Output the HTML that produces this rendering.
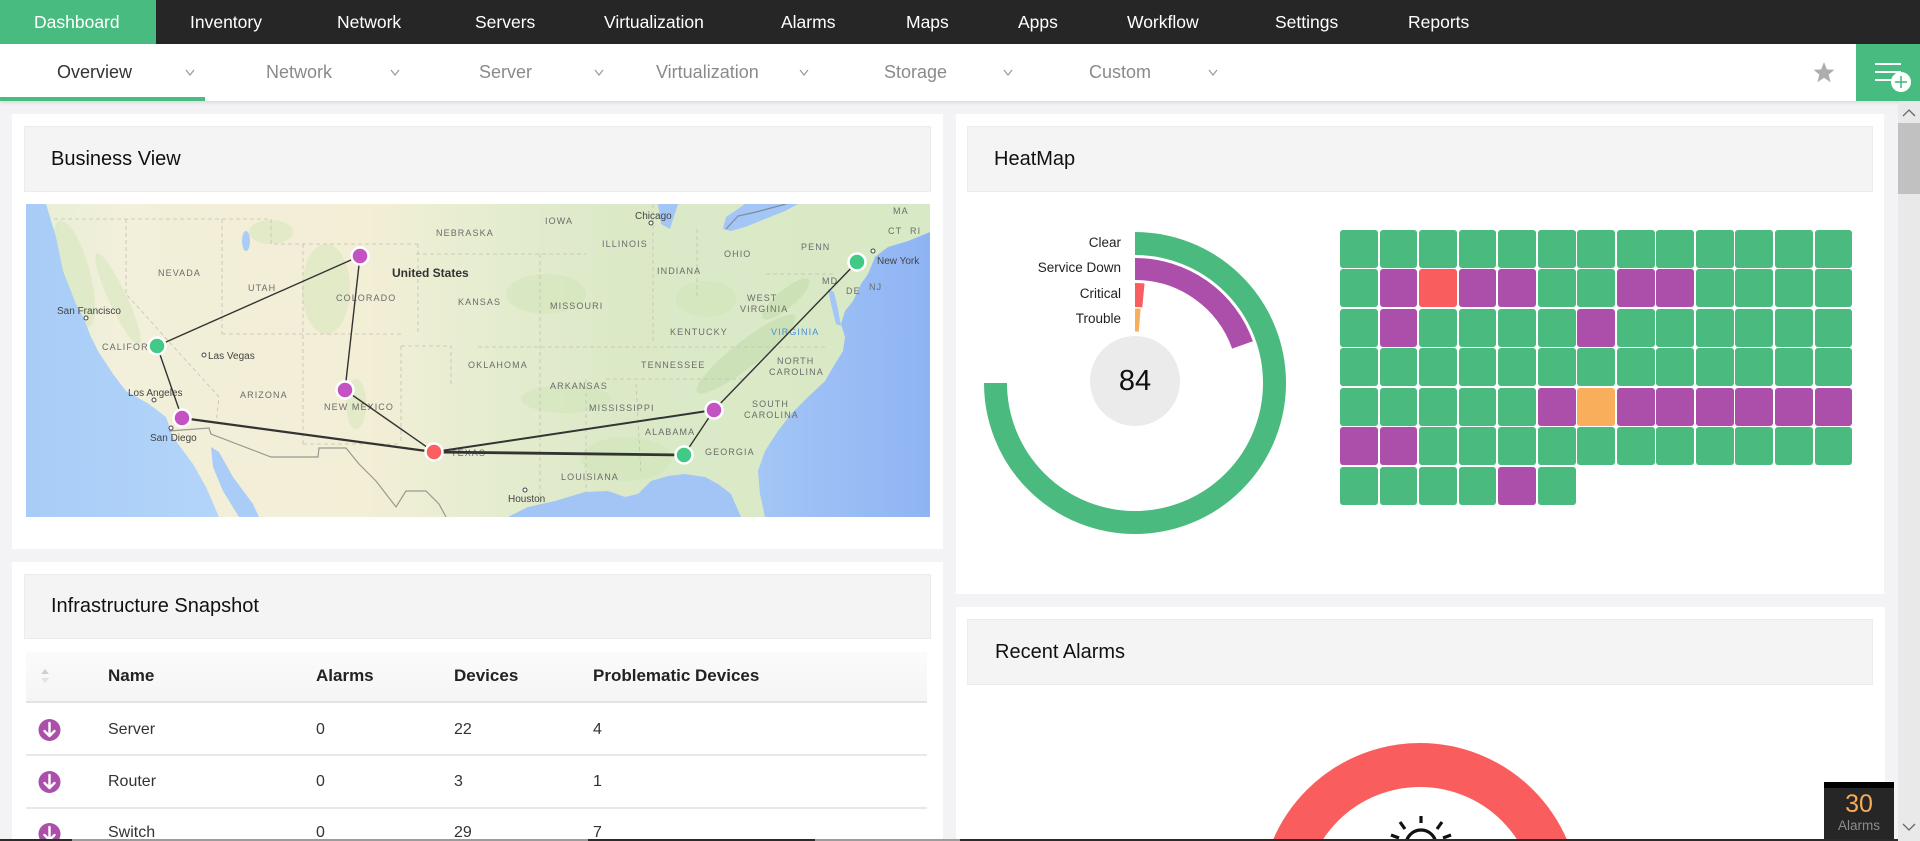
<!DOCTYPE html>
<html><head><meta charset="utf-8"><style>
*{margin:0;padding:0;box-sizing:border-box}
html,body{width:1920px;height:841px;overflow:hidden;background:#f3f3f5;font-family:"Liberation Sans",Arial,sans-serif}
#root{position:relative;width:1920px;height:841px;overflow:hidden;background:#f3f3f5}
.a{position:absolute}
.tn{position:absolute;top:0;line-height:44px;color:#fff;font-size:17.5px;white-space:nowrap}
.sn{position:absolute;top:44px;line-height:56px;color:#8a8a8a;font-size:18px;white-space:nowrap}
.panel{position:absolute;background:#fff}
.hdr{position:absolute;background:#f4f4f4;border:1px solid #ececec}
.ttl{position:absolute;font-size:20px;color:#111;line-height:66px;height:66px;white-space:nowrap}
.th{position:absolute;font-size:17px;font-weight:bold;color:#222;line-height:24px;white-space:nowrap}
.td{position:absolute;font-size:16px;color:#333;line-height:22px;white-space:nowrap}
.td2{position:absolute;font-size:16px;color:#333;line-height:16px;height:16px;white-space:nowrap}
#grid{position:absolute;left:1340px;top:230px;display:grid;grid-template-columns:repeat(13,37.8px);grid-auto-rows:37.8px;column-gap:1.75px;row-gap:1.7px}
#grid div{border-radius:3px;background:#4aba7f}
#grid .p{background:#ab4fab}
#grid .r{background:#fa5d5d}
#grid .o{background:#f9ae5b}
.lbl{position:absolute;font-size:13.5px;color:#222;text-align:right;width:120px;line-height:16px}
</style></head><body><div id="root">

<!-- top nav -->
<div class="a" style="left:0;top:0;width:1920px;height:44px;background:#262626"></div>
<div class="a" style="left:0;top:0;width:156px;height:44px;background:#48bb80"></div>
<span class="tn" style="left:34px">Dashboard</span>
<span class="tn" style="left:190px">Inventory</span>
<span class="tn" style="left:337px">Network</span>
<span class="tn" style="left:475px">Servers</span>
<span class="tn" style="left:604px">Virtualization</span>
<span class="tn" style="left:781px">Alarms</span>
<span class="tn" style="left:906px">Maps</span>
<span class="tn" style="left:1018px">Apps</span>
<span class="tn" style="left:1127px">Workflow</span>
<span class="tn" style="left:1275px">Settings</span>
<span class="tn" style="left:1408px">Reports</span>

<!-- sub nav -->
<div class="a" style="left:0;top:44px;width:1920px;height:57px;background:#fff;box-shadow:0 2px 3px rgba(0,0,0,.10)"></div>
<div class="a" style="left:0;top:97px;width:205px;height:4px;background:#48bb80"></div>
<span class="sn" style="left:57px;color:#333">Overview</span>
<span class="sn" style="left:266px">Network</span>
<span class="sn" style="left:479px">Server</span>
<span class="sn" style="left:656px">Virtualization</span>
<span class="sn" style="left:884px">Storage</span>
<span class="sn" style="left:1089px">Custom</span>
<svg class="a" style="left:0;top:44px" width="1920" height="57">
<g fill="none" stroke="#999" stroke-width="1.2">
<polyline points="186,26 190,31 194,26"/>
<polyline points="391,26 395,31 399,26"/>
<polyline points="595,26 599,31 603,26"/>
<polyline points="800,26 804,31 808,26"/>
<polyline points="1004,26 1008,31 1012,26"/>
<polyline points="1209,26 1213,31 1217,26"/>
</g>
<polygon fill="#adadad" points="1824,18 1826.9,25.5 1834.5,25.8 1828.6,30.6 1830.6,38.2 1824,33.8 1817.4,38.2 1819.4,30.6 1813.5,25.8 1821.1,25.5"/>
<rect x="1856" y="0" width="64" height="57" fill="#48bb80"/>
<g stroke="#fff" stroke-width="2"><line x1="1875" y1="20" x2="1901" y2="20"/><line x1="1875" y1="28" x2="1901" y2="28"/><line x1="1875" y1="36" x2="1897" y2="36"/></g>
<circle cx="1901" cy="38" r="10" fill="#fff"/>
<g stroke="#48bb80" stroke-width="1.6"><line x1="1895" y1="38" x2="1907" y2="38"/><line x1="1901" y1="32" x2="1901" y2="44"/></g>
</svg>

<!-- scrollbar -->
<div class="a" style="left:1898px;top:101px;width:22px;height:740px;background:#e9e9e9"></div>
<div class="a" style="left:1898px;top:123px;width:22px;height:71px;background:#c1c1c1"></div>
<svg class="a" style="left:1898px;top:101px" width="22" height="740">
<polyline points="5,15 11,9 17,15" fill="none" stroke="#666" stroke-width="1.3"/>
<polyline points="5,723 11,729 17,723" fill="none" stroke="#666" stroke-width="1.3"/>
</svg>

<!-- Business View panel -->
<div class="panel" style="left:12px;top:114px;width:931px;height:435px"></div>
<div class="hdr" style="left:24px;top:126px;width:907px;height:66px"></div>
<div class="ttl" style="left:51px;top:126px">Business View</div>

<svg class="a" style="left:26px;top:204px" width="904" height="313" viewBox="0 0 904 313" font-family="Liberation Sans, Arial, sans-serif">
<defs>
<linearGradient id="land" x1="0" x2="1" y1="0" y2="0">
<stop offset="0" stop-color="#e6efd6"/>
<stop offset="0.1" stop-color="#f2efda"/>
<stop offset="0.38" stop-color="#f3eed6"/>
<stop offset="0.5" stop-color="#e6edd0"/>
<stop offset="0.66" stop-color="#dbe9c7"/>
<stop offset="1" stop-color="#d8e9c6"/>
</linearGradient>
<linearGradient id="pac" x1="1" x2="0" y1="0" y2="0"><stop offset="0" stop-color="#b3d5fa"/><stop offset="1" stop-color="#a8ccf7"/></linearGradient>
<linearGradient id="atl" x1="0" x2="1" y1="0" y2="0"><stop offset="0" stop-color="#a3c6f6"/><stop offset="1" stop-color="#8fb4f3"/></linearGradient>
</defs>
<rect width="904" height="313" fill="url(#land)"/>
<g fill="#cfe4b6" opacity="0.45">
<ellipse cx="48" cy="70" rx="16" ry="55" transform="rotate(-15 48 70)"/>
<ellipse cx="92" cy="95" rx="9" ry="50" transform="rotate(-25 92 95)"/>
<ellipse cx="300" cy="85" rx="24" ry="45"/>
<ellipse cx="245" cy="28" rx="22" ry="12"/>
<ellipse cx="330" cy="200" rx="10" ry="25"/>
<ellipse cx="600" cy="255" rx="45" ry="22"/>
<ellipse cx="540" cy="195" rx="45" ry="14"/>
<ellipse cx="520" cy="90" rx="40" ry="20"/>
<ellipse cx="680" cy="95" rx="30" ry="18"/>
</g>
<g fill="#c5dcae" opacity="0.6">
<ellipse cx="720" cy="150" rx="62" ry="13" transform="rotate(-38 720 150)"/>
<ellipse cx="760" cy="95" rx="30" ry="9" transform="rotate(-40 760 95)"/>
</g>
<path fill="url(#pac)" d="M0 0 L20 0 L30 33 L37 67 L50 100 L58 115 L65 133 L72 147 L87 170 L100 187 L123 200 L140 213 L147 233 L167 260 L180 283 L193 313 L0 313Z"/>
<path fill="#a9cdf6" d="M185 243 L193 248 L207 273 L227 300 L233 313 L213 313 L197 287 L187 263Z"/>
<path fill="#a2c5f5" d="M482 313 L502 303 L529 297 L559 288 L582 287 L599 293 L612 290 L625 277 L642 272 L659 270 L679 273 L692 280 L705 290 L715 313Z"/>
<path fill="url(#atl)" d="M904 28 L882 37 L862 43 L849 53 L842 70 L835 80 L827 97 L819 107 L815 120 L819 133 L817 147 L809 160 L799 177 L782 193 L765 210 L752 227 L739 247 L732 267 L734 290 L739 313 L904 313Z"/>
<path fill="#a3c6f6" d="M802 85 L808 88 L812 105 L815 122 L810 120 L805 100Z"/>
<path fill="#a3c6f6" d="M632 0 L652 0 L644 25 L635 20Z"/>
<path fill="#a3c6f6" d="M697 25 L700 13 L709 7 L719 0 L772 0 L759 7 L739 15 L719 23 L705 27Z"/>
<ellipse cx="220" cy="37" rx="4" ry="10" fill="#a9cdf6"/>
<g fill="none" stroke="#c4c1b4" stroke-width="0.8" stroke-dasharray="4 3">
<path d="M28 15 L245 15"/><path d="M100 15 L100 90 L193 193 L190 220"/>
<path d="M196 15 L196 130"/><path d="M277 40 L277 240"/><path d="M196 130 L375 130"/>
<path d="M245 15 L245 40 L392 40"/><path d="M392 40 L392 130"/>
<path d="M375 142 L375 240"/><path d="M375 142 L425 142 L425 183"/><path d="M277 240 L373 240"/>
<path d="M390 50 L560 50"/><path d="M514 50 L514 313"/><path d="M452 143 L800 143"/>
<path d="M580 175 L720 175"/><path d="M627 0 L627 140"/><path d="M671 25 L671 95"/><path d="M740 70 L810 70"/>
<path d="M560 175 L560 290"/><path d="M610 180 L615 270"/>
</g>
<path fill="none" stroke="#9a9890" stroke-width="1.2" d="M143 227 L183 224 L185 230 L245 253 L292 253 L293 244 L320 244 L333 260 L350 277 L370 303 L380 287 L400 287 L413 300 L420 313"/>
<path fill="none" stroke="#7f8a9c" stroke-width="1.2" d="M700 25 L712 12 L730 8 L760 0"/>

<g fill="#6b6b6b" font-size="9" letter-spacing="1.1">
<text x="132" y="72">NEVADA</text>
<text x="222" y="87">UTAH</text>
<text x="310" y="97">COLORADO</text>
<text x="410" y="32">NEBRASKA</text>
<text x="432" y="101">KANSAS</text>
<text x="76" y="146">CALIFORNIA</text>
<text x="214" y="194">ARIZONA</text>
<text x="298" y="206">NEW MEXICO</text>
<text x="425" y="252">TEXAS</text>
<text x="442" y="164">OKLAHOMA</text>
<text x="519" y="20">IOWA</text>
<text x="576" y="43">ILLINOIS</text>
<text x="698" y="53">OHIO</text>
<text x="631" y="70">INDIANA</text>
<text x="775" y="46">PENN</text>
<text x="524" y="105">MISSOURI</text>
<text x="721" y="97">WEST</text>
<text x="714" y="108">VIRGINIA</text>
<text x="796" y="80">MD</text>
<text x="820" y="90">DE</text>
<text x="843" y="86">NJ</text>
<text x="867" y="10">MA</text>
<text x="862" y="30">CT</text>
<text x="884" y="30">RI</text>
<text x="644" y="131">KENTUCKY</text>
<text x="745" y="131" fill="#4a8ed8">VIRGINIA</text>
<text x="615" y="164">TENNESSEE</text>
<text x="751" y="160">NORTH</text>
<text x="743" y="171">CAROLINA</text>
<text x="524" y="185">ARKANSAS</text>
<text x="563" y="207">MISSISSIPPI</text>
<text x="726" y="203">SOUTH</text>
<text x="718" y="214">CAROLINA</text>
<text x="619" y="231">ALABAMA</text>
<text x="679" y="251">GEORGIA</text>
<text x="535" y="276">LOUISIANA</text>
</g>
<g fill="#444" font-size="10">
<text x="31" y="110">San Francisco</text>
<text x="182" y="155">Las Vegas</text>
<text x="102" y="192">Los Angeles</text>
<text x="124" y="237">San Diego</text>
<text x="609" y="15">Chicago</text>
<text x="851" y="60">New York</text>
<text x="482" y="298">Houston</text>
</g>
<g fill="#fff" stroke="#444" stroke-width="1">
<circle cx="60" cy="114" r="2"/><circle cx="178" cy="151" r="2"/><circle cx="128" cy="196" r="2"/>
<circle cx="145" cy="224" r="2"/><circle cx="625" cy="19" r="2"/><circle cx="847" cy="47" r="2"/><circle cx="499" cy="286" r="2"/>
</g>
<text x="366" y="73" font-size="12" font-weight="bold" fill="#333">United States</text>

<g stroke="#333" fill="none" stroke-linecap="round">
<line x1="131" y1="142" x2="334" y2="52" stroke-width="1.4"/>
<line x1="131" y1="142" x2="156" y2="214" stroke-width="1.4"/>
<line x1="334" y1="52" x2="319" y2="186" stroke-width="1.4"/>
<line x1="319" y1="186" x2="408" y2="248" stroke-width="1.4"/>
<line x1="156" y1="214" x2="408" y2="248" stroke-width="2.2"/>
<line x1="408" y1="248" x2="688" y2="206" stroke-width="2"/>
<line x1="408" y1="248" x2="658" y2="251" stroke-width="2.8"/>
<line x1="688" y1="206" x2="658" y2="251" stroke-width="1.4"/>
<line x1="688" y1="206" x2="831" y2="58" stroke-width="1.4"/>
</g>
<g stroke="#fff" stroke-width="2.5">
<circle cx="334" cy="52" r="8.5" fill="#c452c3"/>
<circle cx="131" cy="142" r="8.5" fill="#42c985"/>
<circle cx="156" cy="214" r="8.5" fill="#c452c3"/>
<circle cx="319" cy="186" r="8.5" fill="#c452c3"/>
<circle cx="408" cy="248" r="8.5" fill="#fb6060"/>
<circle cx="658" cy="251" r="8.5" fill="#42c985"/>
<circle cx="688" cy="206" r="8.5" fill="#c452c3"/>
<circle cx="831" cy="58" r="8.5" fill="#42c985"/>
</g>
</svg>

<!-- Infrastructure Snapshot panel -->
<div class="panel" style="left:12px;top:562px;width:931px;height:279px"></div>
<div class="hdr" style="left:24px;top:574px;width:907px;height:65px"></div>
<div class="ttl" style="left:51px;top:574px;line-height:65px">Infrastructure Snapshot</div>
<div class="a" style="left:26px;top:652px;width:901px;height:51px;background:linear-gradient(#fbfbfb,#f5f5f5);border-bottom:2px solid #e3e3e3"></div>
<svg class="a" style="left:38px;top:666px" width="16" height="22">
<polygon points="3,8 7,3 11,8" fill="#cfcfcf"/><polygon points="3,12 7,17 11,12" fill="#e2e2e2"/>
</svg>
<div class="th" style="left:108px;top:664px">Name</div>
<div class="th" style="left:316px;top:664px">Alarms</div>
<div class="th" style="left:454px;top:664px">Devices</div>
<div class="th" style="left:593px;top:664px">Problematic Devices</div>
<div class="a" style="left:26px;top:754px;width:901px;height:2px;background:#e8e8e8"></div>
<div class="a" style="left:26px;top:807px;width:901px;height:2px;background:#e8e8e8"></div>
<svg class="a" style="left:30px;top:700px" width="40" height="141">
<g>
<circle cx="19.5" cy="30" r="11" fill="#ab4fab"/>
<circle cx="19.5" cy="82" r="11" fill="#ab4fab"/>
<circle cx="19.5" cy="134" r="11" fill="#ab4fab"/>
</g>
<g stroke="#fff" stroke-width="2.4" fill="none" stroke-linecap="round" stroke-linejoin="round">
<path d="M19.5 23 L19.5 36 M14.5 31 L19.5 36 L24.5 31"/>
<path d="M19.5 75 L19.5 88 M14.5 83 L19.5 88 L24.5 83"/>
<path d="M19.5 127 L19.5 140 M14.5 135 L19.5 140 L24.5 135"/>
</g>
</svg>
<div class="td" style="left:108px;top:719px">Server</div>
<div class="td" style="left:316px;top:719px">0</div>
<div class="td" style="left:454px;top:719px">22</div>
<div class="td" style="left:593px;top:719px">4</div>
<div class="td" style="left:108px;top:771px">Router</div>
<div class="td" style="left:316px;top:771px">0</div>
<div class="td" style="left:454px;top:771px">3</div>
<div class="td" style="left:593px;top:771px">1</div>
<div class="td2" style="left:108px;top:825px">Switch</div>
<div class="td2" style="left:316px;top:825px">0</div>
<div class="td2" style="left:454px;top:825px">29</div>
<div class="td2" style="left:593px;top:825px">7</div>

<!-- HeatMap panel -->
<div class="panel" style="left:956px;top:114px;width:928px;height:480px"></div>
<div class="hdr" style="left:967px;top:126px;width:906px;height:66px"></div>
<div class="ttl" style="left:994px;top:126px">HeatMap</div>
<svg class="a" style="left:956px;top:194px" width="380" height="380">
<g transform="translate(-956,-194)" fill="none">
<path d="M1135 243.5 A139.5 139.5 0 1 1 995.5 383" stroke="#4aba7f" stroke-width="23"/>
<path d="M1135 269 A114 114 0 0 1 1242.5 344.9" stroke="#ab4fab" stroke-width="22"/>
<path d="M1135 295 A88 88 0 0 1 1143.4 295.4" stroke="#fa5d5d" stroke-width="24"/>
<path d="M1135 320 A63 63 0 0 1 1139.7 320.2" stroke="#f9ae5b" stroke-width="23"/>
<circle cx="1135" cy="381" r="45" fill="#ebebeb"/>
</g>
</svg>
<div class="a" style="left:1085px;top:362px;width:100px;text-align:center;font-size:29px;line-height:38px;color:#111">84</div>
<div class="lbl" style="left:1001px;top:235px">Clear</div>
<div class="lbl" style="left:1001px;top:260px">Service Down</div>
<div class="lbl" style="left:1001px;top:286px">Critical</div>
<div class="lbl" style="left:1001px;top:311px">Trouble</div>
<div id="grid">
<div></div><div></div><div></div><div></div><div></div><div></div><div></div><div></div><div></div><div></div><div></div><div></div><div></div>
<div></div><div class="p"></div><div class="r"></div><div class="p"></div><div class="p"></div><div></div><div></div><div class="p"></div><div class="p"></div><div></div><div></div><div></div><div></div>
<div></div><div class="p"></div><div></div><div></div><div></div><div></div><div class="p"></div><div></div><div></div><div></div><div></div><div></div><div></div>
<div></div><div></div><div></div><div></div><div></div><div></div><div></div><div></div><div></div><div></div><div></div><div></div><div></div>
<div></div><div></div><div></div><div></div><div></div><div class="p"></div><div class="o"></div><div class="p"></div><div class="p"></div><div class="p"></div><div class="p"></div><div class="p"></div><div class="p"></div>
<div class="p"></div><div class="p"></div><div></div><div></div><div></div><div></div><div></div><div></div><div></div><div></div><div></div><div></div><div></div>
<div></div><div></div><div></div><div></div><div class="p"></div><div></div>
</div>

<!-- Recent Alarms panel -->
<div class="panel" style="left:956px;top:607px;width:929px;height:234px"></div>
<div class="hdr" style="left:967px;top:619px;width:906px;height:66px"></div>
<div class="ttl" style="left:995px;top:619px">Recent Alarms</div>
<svg class="a" style="left:1250px;top:730px" width="340" height="111">
<g transform="translate(-1250,-730)">
<circle cx="1420" cy="903" r="138" fill="none" stroke="#fa5d5d" stroke-width="44"/>
<g stroke="#111" stroke-width="3.2" fill="none" stroke-linecap="butt">
<path d="M1406 845 A15 15 0 0 1 1436 845"/>
<line x1="1421" y1="816" x2="1421" y2="823"/>
<line x1="1400" y1="822" x2="1405" y2="829"/>
<line x1="1442" y1="822" x2="1437" y2="829"/>
<line x1="1391" y1="835" x2="1399" y2="838"/>
<line x1="1451" y1="835" x2="1443" y2="838"/>
</g>
</g>
</svg>

<!-- alarm badge -->
<div class="a" style="left:1824px;top:782px;width:70px;height:59px;background:#262626;border-top:6px solid #000"></div>
<div class="a" style="left:1824px;top:790px;width:70px;text-align:center;font-size:25px;line-height:28px;color:#f7ab58">30</div>
<div class="a" style="left:1824px;top:818px;width:70px;text-align:center;font-size:13.5px;line-height:16px;color:#8c8c8c">Alarms</div>

<!-- bottom strip -->
<div class="a" style="left:0;top:839px;width:1898px;height:2px;background:#2b2b2b"></div>
<div class="a" style="left:72px;top:839px;width:516px;height:2px;background:#9c9c9c"></div>
<div class="a" style="left:815px;top:839px;width:145px;height:2px;background:#9c9c9c"></div>

</div></body></html>
